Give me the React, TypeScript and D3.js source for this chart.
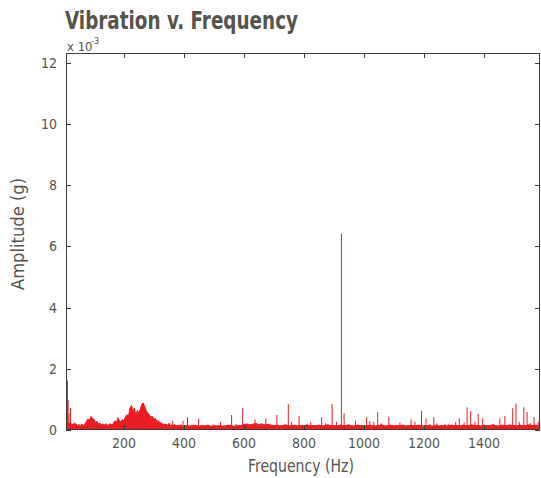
import React from "react";
import * as d3 from "d3";

// ---- data (amplitude in units of 1e-3 g) ----
const title = "Vibration v. Frequency";
const xLabel = "Frequency (Hz)";
const yLabel = "Amplitude (g)";
const xTicks = [200, 400, 600, 800, 1000, 1200, 1400];
const yTicks = [0, 2, 4, 6, 8, 10, 12];
const xDomain = [7, 1587];
const yDomain = [0, 12.32];

// noise floor below 400 Hz, one value every 5 Hz starting at 0 Hz
const lowStepHz = 5;
const lowFloorAmp = [
  0.3, 0.32, 0.28, 0.25, 0.22, 0.2, 0.18, 0.22, 0.2, 0.15,
  0.18, 0.14, 0.19, 0.15, 0.2, 0.28, 0.36, 0.3, 0.44, 0.38,
  0.35, 0.25, 0.28, 0.2, 0.22, 0.17, 0.2, 0.16, 0.21, 0.15,
  0.18, 0.2, 0.17, 0.22, 0.3, 0.24, 0.4, 0.3, 0.26, 0.34,
  0.3, 0.42, 0.5, 0.44, 0.7, 0.8, 0.6, 0.72, 0.48, 0.65,
  0.55, 0.7, 0.84, 0.88, 0.75, 0.62, 0.55, 0.5, 0.42, 0.45,
  0.35, 0.38, 0.28, 0.3, 0.24, 0.22, 0.2, 0.18, 0.2, 0.15,
  0.22, 0.14, 0.17, 0.15, 0.18, 0.13, 0.16, 0.14, 0.17, 0.13,
];

// noise floor from 400 Hz up, one value every 10 Hz
const highStartHz = 400;
const highStepHz = 10;
const highFloorAmp = [
  0.13, 0.15, 0.12, 0.16, 0.14, 0.12, 0.15, 0.13, 0.16, 0.12,
  0.14, 0.13, 0.15, 0.12, 0.14, 0.16, 0.13, 0.12, 0.15, 0.14,
  0.18, 0.2, 0.17, 0.19, 0.21, 0.18, 0.2, 0.17, 0.19, 0.16,
  0.14, 0.16, 0.13, 0.15, 0.17, 0.13, 0.14, 0.16, 0.13, 0.15,
  0.14, 0.17, 0.13, 0.15, 0.14, 0.16, 0.13, 0.15, 0.17, 0.14,
  0.15, 0.13, 0.16, 0.14, 0.15, 0.17, 0.13, 0.14, 0.16, 0.14,
  0.15, 0.13, 0.16, 0.14, 0.13, 0.15, 0.17, 0.13, 0.14, 0.16,
  0.13, 0.15, 0.14, 0.16, 0.13, 0.14, 0.15, 0.13, 0.16, 0.14,
  0.13, 0.15, 0.14, 0.12, 0.16, 0.13, 0.15, 0.14, 0.13, 0.16,
  0.14, 0.15, 0.13, 0.16, 0.14, 0.15, 0.17, 0.14, 0.15, 0.13,
  0.16, 0.14, 0.15, 0.17, 0.14, 0.13, 0.16, 0.15, 0.14, 0.16,
  0.15, 0.13, 0.16, 0.14, 0.15, 0.17, 0.14, 0.16, 0.15, 0.14,
];

// narrow spectral peaks
const spikeHz = [
  12, 14, 17, 22, 226, 263, 363, 397, 412, 449, 497, 522, 559, 573, 596, 637,
  673, 710, 748, 759, 784, 823, 859, 873, 894, 909, 925, 934, 972, 1009, 1020,
  1033, 1046, 1057, 1083, 1120, 1157, 1170, 1192, 1207, 1220, 1233, 1244, 1270,
  1281, 1306, 1318, 1334, 1344, 1356, 1370, 1381, 1396, 1433, 1453, 1470, 1484,
  1496, 1507, 1518, 1533, 1544, 1556, 1567, 1581,
];
const spikeAmp = [
  1.62, 0.98, 0.55, 0.72, 0.8, 0.88, 0.3, 0.3, 0.42, 0.36, 0.18, 0.27, 0.49, 0.2, 0.71, 0.35,
  0.38, 0.49, 0.85, 0.27, 0.46, 0.26, 0.42, 0.22, 0.85, 0.27, 6.42, 0.55, 0.3, 0.42, 0.29,
  0.27, 0.59, 0.22, 0.42, 0.24, 0.35, 0.27, 0.62, 0.38, 0.2, 0.42, 0.22, 0.2,
  0.2, 0.27, 0.38, 0.24, 0.74, 0.62, 0.27, 0.52, 0.38, 0.2, 0.38, 0.46, 0.2,
  0.71, 0.87, 0.27, 0.74, 0.59, 0.22, 0.42, 0.27,
];

const W = 541;
const H = 478;
const M = { left: 66, right: 540, top: 53, bottom: 430 };
const RED = "#ec1c24";
const AXIS = "#3f3d36";
const TEXT = "#55544c";
const FONT = "'Liberation Sans Narrow', 'DejaVu Sans Condensed', 'Roboto', sans-serif";

export default function App() {
  const x = d3.scaleLinear().domain(xDomain).range([M.left, M.right]);
  const y = d3.scaleLinear().domain(yDomain).range([M.bottom, M.top]);

  const floorPts: [number, number][] = [
    ...lowFloorAmp.map((a, i) => [i * lowStepHz, a] as [number, number]),
    ...highFloorAmp.map((a, i) => [highStartHz + i * highStepHz, a] as [number, number]),
  ];
  const area = d3
    .area<[number, number]>()
    .x((d) => x(d[0]))
    .y0(y(0))
    .y1((d) => y(d[1]));
  const line = d3
    .line<[number, number]>()
    .x((d) => x(d[0]))
    .y((d) => y(d[1]));

  const tick = 5;

  return (
    <svg
      width={W}
      height={H}
      style={{ position: "absolute", left: 0, top: 0, background: "#fff" }}
      fontFamily={FONT}
    >
      <defs>
        <clipPath id="plotClip">
          <rect x={M.left} y={M.top} width={M.right - M.left} height={M.bottom - M.top} />
        </clipPath>
      </defs>

      <text
        x={65}
        y={29}
        fontSize={25}
        fontWeight="bold"
        fill={TEXT}
        textLength={233}
        lengthAdjust="spacingAndGlyphs"
      >
        {title}
      </text>

      <g clipPath="url(#plotClip)">
        <path d={area(floorPts) || ""} fill={RED} />
        <path d={line(floorPts) || ""} fill="none" stroke={RED} strokeWidth={1} />
        {spikeHz.map((hz, i) => (
          <line
            key={i}
            x1={x(hz)}
            x2={x(hz)}
            y1={y(0)}
            y2={y(spikeAmp[i])}
            stroke={RED}
            strokeWidth={1}
          />
        ))}
      </g>

      {/* box */}
      <rect
        x={M.left + 0.5}
        y={M.top + 0.5}
        width={M.right - M.left - 1}
        height={M.bottom - M.top - 1}
        fill="none"
        stroke={AXIS}
        strokeWidth={1}
      />

      {/* x ticks */}
      {xTicks.map((t) => (
        <g key={"x" + t}>
          <line x1={Math.round(x(t)) + 0.5} x2={Math.round(x(t)) + 0.5} y1={M.bottom} y2={M.bottom - tick} stroke={AXIS} />
          <line x1={Math.round(x(t)) + 0.5} x2={Math.round(x(t)) + 0.5} y1={M.top} y2={M.top + tick} stroke={AXIS} />
          <text x={x(t)} y={448} fontSize={14} fill={TEXT} textAnchor="middle">
            {t}
          </text>
        </g>
      ))}

      {/* y ticks */}
      {yTicks.map((t) => (
        <g key={"y" + t}>
          <line x1={M.left} x2={M.left + tick} y1={Math.round(y(t)) + 0.5} y2={Math.round(y(t)) + 0.5} stroke={AXIS} />
          <line x1={M.right} x2={M.right - tick} y1={Math.round(y(t)) + 0.5} y2={Math.round(y(t)) + 0.5} stroke={AXIS} />
          <text x={57} y={y(t) + 5} fontSize={14} fill={TEXT} textAnchor="end">
            {t}
          </text>
        </g>
      ))}

      {/* exponent */}
      <text x={67} y={51} fontSize={13} fill={TEXT}>
        x 10
      </text>
      <text x={91} y={44} fontSize={9} fill={TEXT}>
        -3
      </text>

      <text
        x={301}
        y={472}
        fontSize={17}
        fill={TEXT}
        textAnchor="middle"
        textLength={106}
        lengthAdjust="spacingAndGlyphs"
      >
        {xLabel}
      </text>
      <text
        transform="translate(24,234) rotate(-90)"
        fontSize={17}
        fill={TEXT}
        textAnchor="middle"
        textLength={112}
        lengthAdjust="spacingAndGlyphs"
      >
        {yLabel}
      </text>
    </svg>
  );
}
